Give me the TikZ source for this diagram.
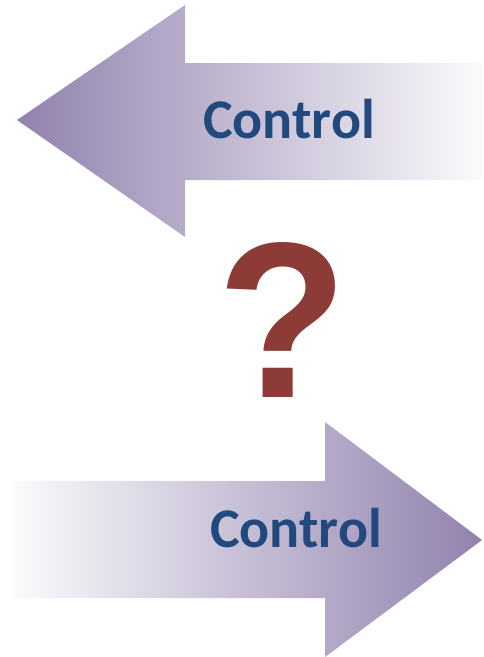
\documentclass[tikz,border=0pt]{standalone}
\usepackage{fontspec}
\setmainfont{Carlito}
\newfontfamily\qfont{Liberation Sans}
\definecolor{arrowdark}{HTML}{9182AE}
\definecolor{ctrlblue}{HTML}{22497E}
\definecolor{qred}{HTML}{8C3B37}
\tikzset{
  lbl/.style={inner sep=0pt, anchor=base, text=ctrlblue, font=\fontsize{56}{60}\selectfont\bfseries},
  qmark/.style={inner sep=0pt, anchor=base, text=qred, xscale=0.96, font=\qfont\fontsize{222}{228}\selectfont\bfseries}
}
\begin{document}
\begin{tikzpicture}[x=1pt,y=-1pt]
\useasboundingbox (0,0) rectangle (483,657);
% top arrow (pointing left)
\shade[left color=arrowdark, right color=white!96!arrowdark]
  (17,120) -- (185,5) -- (185,63) -- (483,63) -- (483,180) -- (185,180) -- (185,237) -- cycle;
% bottom arrow (pointing right)
\shade[left color=white!96!arrowdark, right color=arrowdark]
  (13,481) -- (325,481) -- (325,422) -- (482,540) -- (325,657) -- (325,598) -- (13,598) -- cycle;
\node[lbl] (top) at (289,138) {Control};
\node[lbl] (bottom) at (296,547) {Control};
\node[qmark] (q) at (283,397) {?};
\end{tikzpicture}
\end{document}
